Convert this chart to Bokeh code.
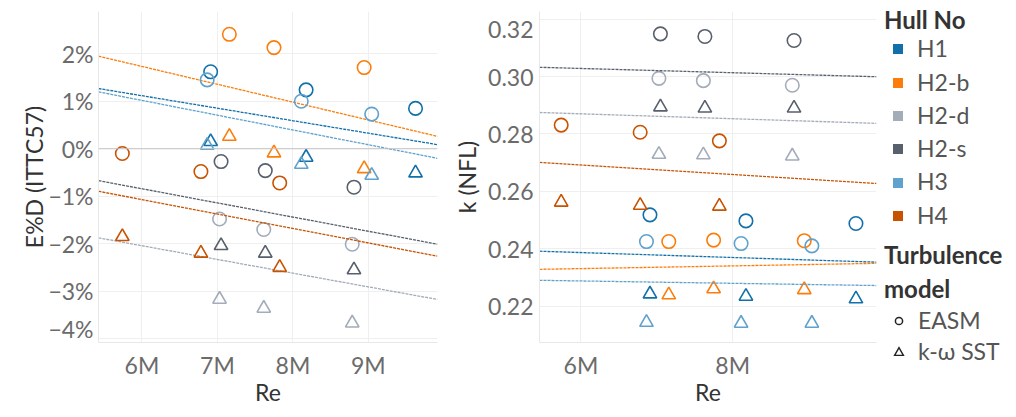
import numpy as np
from bokeh.plotting import figure
from bokeh.models import Range1d, FixedTicker, CustomJSTickFormatter, Span, Div
from bokeh.layouts import row
from bokeh.embed import file_html
from bokeh.resources import INLINE

# ---------------- data ----------------
hulls = ["H1", "H2-b", "H2-d", "H2-s", "H3", "H4"]
hull_colors = ["#1170aa", "#fc7d0b", "#a3acb9", "#57606c", "#5fa2ce", "#c85200"]
models = ["EASM", "k-ω SST"]
model_markers = ["circle", "triangle"]

# Reynolds number (millions) per hull
re_m = {
    "H1":   [6.91, 8.175, 9.625],
    "H2-b": [7.158, 7.749, 8.944],
    "H2-d": [7.028, 7.614, 8.786],
    "H2-s": [7.048, 7.634, 8.809],
    "H3":   [6.864, 8.111, 9.044],
    "H4":   [5.74, 6.781, 7.825],
}

# E%D (ITTC57), percent
ed_easm = {
    "H1":   [1.62, 1.24, 0.85],
    "H2-b": [2.41, 2.13, 1.71],
    "H2-d": [-1.48, -1.70, -2.01],
    "H2-s": [-0.27, -0.46, -0.81],
    "H3":   [1.45, 1.00, 0.73],
    "H4":   [-0.10, -0.48, -0.72],
}
ed_sst = {
    "H1":   [0.15, -0.18, -0.51],
    "H2-b": [0.26, -0.09, -0.42],
    "H2-d": [-3.17, -3.36, -3.67],
    "H2-s": [-2.04, -2.20, -2.55],
    "H3":   [0.07, -0.33, -0.56],
    "H4":   [-1.85, -2.20, -2.50],
}

# k (NFL)
k_easm = {
    "H1":   [0.2518, 0.2497, 0.2488],
    "H2-b": [0.2425, 0.2430, 0.2428],
    "H2-d": [0.2994, 0.2986, 0.2970],
    "H2-s": [0.3149, 0.3140, 0.3126],
    "H3":   [0.2425, 0.2418, 0.2410],
    "H4":   [0.2831, 0.2806, 0.2776],
}
k_sst = {
    "H1":   [0.2242, 0.2234, 0.2225],
    "H2-b": [0.2239, 0.2260, 0.2257],
    "H2-d": [0.2729, 0.2727, 0.2723],
    "H2-s": [0.2894, 0.2890, 0.2890],
    "H3":   [0.2143, 0.2140, 0.2140],
    "H4":   [0.2562, 0.2551, 0.2548],
}

left_x_ticks = [6, 7, 8, 9]
left_y_ticks = [-4, -3, -2, -1, 0, 1, 2]
right_x_ticks = [6, 8]
right_y_ticks = [0.22, 0.24, 0.26, 0.28, 0.30, 0.32]

# ---------------- style ----------------
FONT = "Lato"
TICK_SIZE = "23px"
TITLE_SIZE = "23px"
TICK_COLOR = "#6b6b6b"
TITLE_COLOR = "#333333"
GRID_COLOR = "#efefef"
PT_SIZE = 13.5
PT_WIDTH = 1.6
H = 416


def style_axes(p):
    for ax in (p.xaxis[0], p.yaxis[0]):
        ax.axis_line_color = "#e8e8e8"
        ax.major_tick_line_color = None
        ax.minor_tick_line_color = None
        ax.major_tick_out = 0
        ax.major_tick_in = 0
        ax.minor_tick_out = 0
        ax.minor_tick_in = 0
        ax.major_label_text_font = FONT
        ax.major_label_text_font_size = TICK_SIZE
        ax.major_label_text_color = TICK_COLOR
        ax.axis_label_text_font = FONT
        ax.axis_label_text_font_size = TITLE_SIZE
        ax.axis_label_text_color = TITLE_COLOR
        ax.axis_label_text_font_style = "normal"
    p.xaxis[0].major_label_standoff = 8
    p.xaxis[0].axis_label_standoff = -4
    p.xgrid.grid_line_color = GRID_COLOR
    p.ygrid.grid_line_color = GRID_COLOR
    p.outline_line_color = None
    p.background_fill_color = "white"
    p.border_fill_color = "white"


def draw(p, easm, sst, x_range):
    for hull, color in zip(hulls, hull_colors):
        xs = re_m[hull]
        p.scatter(xs, easm[hull], marker=model_markers[0], size=PT_SIZE,
                  line_color=color, fill_alpha=0, line_width=PT_WIDTH)
        p.scatter(xs, sst[hull], marker=model_markers[1], size=PT_SIZE,
                  line_color=color, fill_alpha=0, line_width=PT_WIDTH)
        # linear trend over both turbulence models
        xx = np.array(xs + xs, dtype=float)
        yy = np.array(easm[hull] + sst[hull], dtype=float)
        slope, icpt = np.polyfit(xx, yy, 1)
        x_ends = np.array([x_range[0], x_range[1]])
        p.line(x_ends, slope * x_ends + icpt, line_color=color,
               line_width=1.3, line_dash="3 1")


# ---------------- left: E%D ----------------
lx = (5.424, 9.916)
p1 = figure(width=442, height=H, x_range=Range1d(*lx), y_range=Range1d(-4.08, 2.89),
            toolbar_location=None, output_backend="svg",
            min_border_left=98, min_border_right=5, min_border_top=11,
            min_border_bottom=H - 342)
style_axes(p1)
p1.yaxis[0].major_label_text_line_height = 0.72
p1.yaxis[0].major_label_standoff = 5
p1.yaxis[0].axis_label_standoff = -3
p1.xaxis.ticker = FixedTicker(ticks=left_x_ticks)
p1.yaxis.ticker = FixedTicker(ticks=left_y_ticks)
p1.xaxis.formatter = CustomJSTickFormatter(code="return tick + 'M';")
p1.yaxis.formatter = CustomJSTickFormatter(
    args=dict(low=min(left_y_ticks)),
    code="const s = (tick < 0 ? '\u2212' + Math.abs(tick) : tick) + '%'; "
         "return tick == low ? s + '\\n' : s;")
p1.xaxis.axis_label = "Re"
p1.yaxis.axis_label = "E%D (ITTC57)"
p1.add_layout(Span(location=0, dimension="width", line_color="#c4c4c4", line_width=1))
draw(p1, ed_easm, ed_sst, lx)

# ---------------- right: k (NFL) ----------------
rx = (5.454, 9.896)
p2 = figure(width=438, height=H, x_range=Range1d(*rx), y_range=Range1d(0.2073, 0.3227),
            toolbar_location=None, output_backend="svg",
            min_border_left=97, min_border_right=4, min_border_top=11,
            min_border_bottom=H - 342)
style_axes(p2)
p2.yaxis[0].major_label_text_line_height = 0.5
p2.yaxis[0].major_label_standoff = 6
p2.yaxis[0].axis_label_standoff = 4
p2.xaxis.ticker = FixedTicker(ticks=right_x_ticks)
p2.yaxis.ticker = FixedTicker(ticks=right_y_ticks)
p2.xaxis.formatter = CustomJSTickFormatter(code="return tick + 'M';")
p2.yaxis.formatter = CustomJSTickFormatter(
    args=dict(high=max(right_y_ticks)),
    code="const s = tick.toFixed(2); "
         "return Math.abs(tick - high) < 1e-9 ? '\\n' + s : s;")
p2.xaxis.axis_label = "Re"
p2.yaxis.axis_label = "k (NFL)"
draw(p2, k_easm, k_sst, rx)

# ---------------- legend (HTML) ----------------
LW = 128


def place(left, top, inner, style=""):
    return (f'<div style="position:absolute;left:{left:.1f}px;top:{top:.1f}px;'
            f'white-space:nowrap;{style}">{inner}</div>')


def title_txt(cy, txt):
    return place(4, cy - 12.6, txt,
                 f"font-family:{FONT};font-size:24px;font-weight:bold;"
                 f"line-height:24px;color:{TITLE_COLOR};")


def item_txt(left, cy, txt):
    return place(left, cy - 12.1, txt,
                 f"font-family:{FONT};font-size:23px;line-height:23px;color:#555555;")


parts = [title_txt(20.7, "Hull No")]
for i, (h, c) in enumerate(zip(hulls, hull_colors)):
    cy = 49.3 + 33.3 * i
    parts.append(place(13, cy - 5, "", f"width:10px;height:10px;background:{c};"))
    parts.append(item_txt(37, cy, h))
parts.append(title_txt(256, "Turbulence"))
parts.append(title_txt(289.3, "model"))
shapes = {
    "circle": '<circle cx="6" cy="6" r="3.6" fill="none" stroke="#222222" stroke-width="1.5"/>',
    "triangle": '<polygon points="6,1.6 1.6,9.4 10.4,9.4" fill="none" stroke="#222222" '
                'stroke-width="1.4"/>',
}
for j, (m, mk) in enumerate(zip(models, model_markers)):
    cy = 321 + 31.3 * j
    parts.append(place(13, cy - 6, f'<svg width="12" height="12">{shapes[mk]}</svg>',
                       "line-height:0;"))
    parts.append(item_txt(38, cy, m))

legend_html = (f'<div style="position:relative;width:{LW}px;height:{H - 4}px;">'
               + "".join(parts) + "</div>")
legend_div = Div(text=legend_html, width=LW, height=H, margin=0)

layout = row(p1, p2, legend_div)
open("out.html", "w").write(file_html(layout, INLINE))
